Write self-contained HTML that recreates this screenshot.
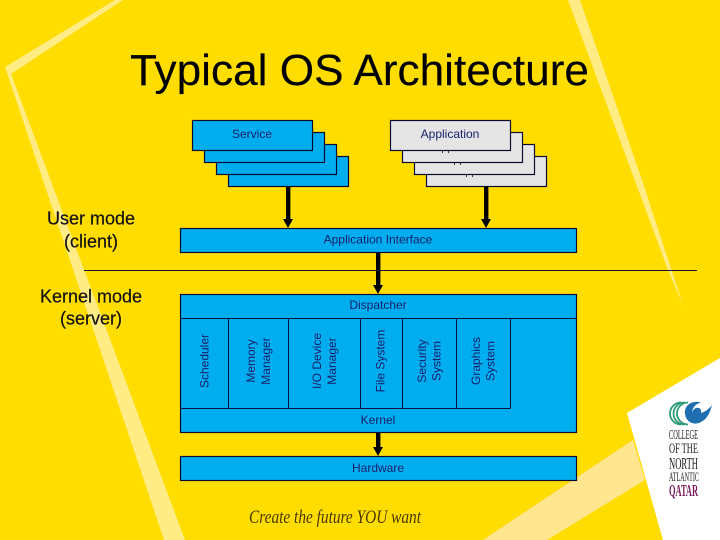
<!DOCTYPE html>
<html>
<head>
<meta charset="utf-8">
<style>
html,body{margin:0;padding:0;background:#FFDD00;}
svg{display:block;}
text{font-family:"Liberation Sans",sans-serif;}
.b{fill:#00AEEF;stroke:#0a0a30;stroke-width:1.2;}
.g{fill:#E5E5E5;stroke:#0a0a30;stroke-width:1.2;}
.l{stroke:#101040;stroke-width:1;fill:none;}
.t{font-size:12px;fill:#17206b;text-anchor:middle;}
.s{font-size:18px;fill:#111;text-anchor:middle;stroke:#111;stroke-width:.2;}
.lg{font-family:"Liberation Serif",serif;fill:#1a1a1a;}
</style>
</head>
<body>
<svg width="720" height="540" viewBox="0 0 720 540" xmlns="http://www.w3.org/2000/svg">
<rect width="720" height="540" fill="#FFDD00"/>
<!-- pale stripes -->
<polygon points="115,0 123,0 11,74 185,540 164,540 5,67" fill="#FFEC85"/>
<polygon points="568,0 580,0 642,180 683,305 668,270" fill="#FFEC85"/>
<polygon points="483,540 633,440 645,480 547,540" fill="#FFE68F"/>
<polygon points="720,358 627,413 663,540 720,540" fill="#FFFFFF"/>

<text x="130" y="85" font-size="44" fill="#000" stroke="#000" stroke-width=".15" textLength="459" lengthAdjust="spacingAndGlyphs">Typical OS Architecture</text>

<!-- stacks -->
<rect class="b" x="228.5" y="156.5" width="120" height="30"/>
<rect class="b" x="216.5" y="144.5" width="120" height="30"/>
<rect class="b" x="204.5" y="132.5" width="120" height="30"/>
<rect class="b" x="192.5" y="120.5" width="120" height="30"/>
<text class="t" x="252" y="138">Service</text>

<rect class="g" x="426.5" y="156.5" width="120" height="30"/>
<rect class="g" x="414.5" y="144.5" width="120" height="30"/>
<rect class="g" x="402.5" y="132.5" width="120" height="30"/>
<rect class="g" x="390.5" y="120.5" width="120" height="30"/>
<text class="t" x="450" y="138">Application</text>
<g fill="#333">
<rect x="442" y="151" width="1" height="2"/><rect x="448" y="151" width="1" height="2"/>
<rect x="454" y="163" width="1" height="2"/><rect x="460" y="163" width="1" height="2"/>
<rect x="466" y="175" width="1" height="2"/><rect x="472" y="175" width="1" height="2"/>
</g>

<!-- arrows -->
<g fill="#000">
<rect x="286" y="186" width="4.4" height="34"/><polygon points="283,219 293,219 288,228"/>
<rect x="484" y="186" width="4.4" height="34"/><polygon points="481,219 491,219 486,228"/>
<rect x="376" y="252" width="4.4" height="34"/><polygon points="373,285 383,285 378,294"/>
<rect x="376" y="432" width="4.4" height="16"/><polygon points="373,447 383,447 378,456"/>
</g>

<!-- app interface -->
<rect class="b" x="180.5" y="228.5" width="396" height="24"/>
<text class="t" x="378" y="243.500">Application Interface</text>

<line x1="84" y1="270.5" x2="697" y2="270.5" stroke="#1a1030" stroke-width="1"/>

<text class="s" x="91" y="224.500">User mode</text>
<text class="s" x="91" y="247.500">(client)</text>
<text class="s" x="91" y="302.500">Kernel mode</text>
<text class="s" x="91" y="324.500">(server)</text>

<!-- kernel -->
<rect class="b" x="180.5" y="294.5" width="396" height="138"/>
<path class="l" d="M180.500 318.500H576.500M180.500 408.500H510.500M228.500 318.500V408.500M288.500 318.500V408.500M360.500 318.500V408.500M402.500 318.500V408.500M456.500 318.500V408.500M510.500 318.500V408.500"/>
<text class="t" x="378" y="309">Dispatcher</text>
<text class="t" x="378" y="424">Kernel</text>

<text class="t" transform="translate(208.500,361) rotate(-90)">Scheduler</text>
<text class="t" transform="translate(255,361) rotate(-90)">Memory</text>
<text class="t" transform="translate(270,361) rotate(-90)">Manager</text>
<text class="t" transform="translate(321,361) rotate(-90)">I/O Device</text>
<text class="t" transform="translate(336,361) rotate(-90)">Manager</text>
<text class="t" transform="translate(384.500,361) rotate(-90)">File System</text>
<text class="t" transform="translate(426,361) rotate(-90)">Security</text>
<text class="t" transform="translate(440.500,361) rotate(-90)">System</text>
<text class="t" transform="translate(480,361) rotate(-90)">Graphics</text>
<text class="t" transform="translate(494.500,361) rotate(-90)">System</text>

<!-- hardware -->
<rect class="b" x="180.5" y="456.5" width="396" height="24"/>
<text class="t" x="378" y="472">Hardware</text>

<!-- tagline -->
<text x="249" y="523" font-size="19" fill="#4a3800" style="font-family:'Liberation Serif',serif;font-style:italic" textLength="172" lengthAdjust="spacingAndGlyphs">Create the future YOU want</text>

<!-- logo -->
<g fill="none" stroke="#2f9a78" stroke-width="1.8">
<path d="M681 402.500a11 11 0 0 0 0 22"/>
<path d="M684.500 402.500a11 11 0 0 0 0 22"/>
<path d="M688 402.500a11 11 0 0 0 0 22"/>
</g>
<path d="M701 402.500C691 400 684 406 685 414C686 422 694 426 701 422C707 419 710 413 712 405C709 409 705 412 701 413C702 409 699 407 696 408C693 409 692 412 693 414C691 409 695 404 701 402.500Z" fill="#1f6fb0"/>
<text class="lg" x="669" y="439" font-size="13.5" textLength="29" lengthAdjust="spacingAndGlyphs">COLLEGE</text>
<text class="lg" x="669" y="453" font-size="15" textLength="29" lengthAdjust="spacingAndGlyphs">OF THE</text>
<text class="lg" x="669" y="469" font-size="16.5" textLength="29" lengthAdjust="spacingAndGlyphs">NORTH</text>
<text class="lg" x="669" y="481" font-size="13" textLength="30" lengthAdjust="spacingAndGlyphs">ATLANTIC</text>
<text class="lg" x="669" y="496" font-size="17" textLength="29" lengthAdjust="spacingAndGlyphs" style="fill:#7a1a5e;font-weight:bold">QATAR</text>
</svg>
</body>
</html>
